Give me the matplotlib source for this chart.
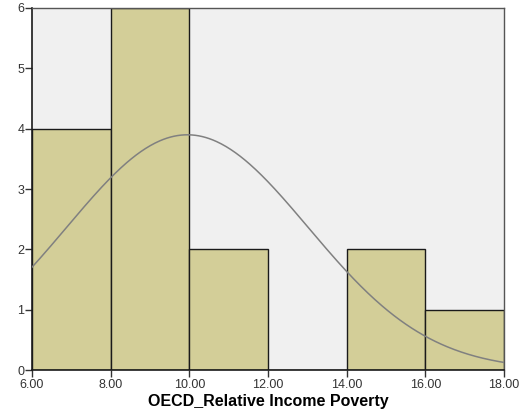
import numpy as np
import matplotlib
matplotlib.use("Agg")
import matplotlib.pyplot as plt

plt.rcParams['font.family'] = ['Liberation Sans', 'DejaVu Sans']

# Histogram bins (edges) and frequencies
bin_edges = [6.0, 8.0, 10.0, 12.0, 14.0, 16.0, 18.0]
counts = [4, 6, 2, 0, 2, 1]
# Normal fit parameters
fit_mean = 9.95
fit_sd = 3.07
n_obs = 15
x_ticks = [6, 8, 10, 12, 14, 16, 18]
y_ticks = [0, 1, 2, 3, 4, 5, 6]

W, H = 523, 419
fig = plt.figure(figsize=(W / 100, H / 100), dpi=100)
ax = fig.add_axes([32 / W, (H - 370) / H, 472 / W, 362 / H])
ax.set_facecolor('#F0F0F0')

widths = np.diff(bin_edges)
ax.bar(bin_edges[:-1], counts, width=widths, align='edge',
       color='#D3CE98', edgecolor='#1a1a1a', linewidth=1.0, zorder=2)

xs = np.linspace(bin_edges[0], bin_edges[-1], 400)
bw = widths[0]
ys = n_obs * bw / (fit_sd * np.sqrt(2 * np.pi)) * np.exp(-0.5 * ((xs - fit_mean) / fit_sd) ** 2)
ax.plot(xs, ys, color='#808080', linewidth=1.1, zorder=3)

ax.set_xlim(bin_edges[0], bin_edges[-1])
ax.set_ylim(0, 6)
ax.set_xticks(x_ticks)
ax.set_xticklabels([f"{t:.2f}" for t in x_ticks])
ax.set_yticks(y_ticks)
ax.tick_params(axis='both', direction='out', length=5, width=1, labelsize=9, colors='#333333')
ax.tick_params(axis='x', pad=1.5)
ax.tick_params(axis='y', pad=0.5)

for side in ['left', 'bottom']:
    ax.spines[side].set_color('#1a1a1a')
    ax.spines[side].set_linewidth(1.2)
for side in ['top', 'right']:
    ax.spines[side].set_color('#555555')
    ax.spines[side].set_linewidth(1.0)

ax.set_xlabel('OECD_Relative Income Poverty', fontsize=11.5, fontweight='bold', labelpad=2)

fig.savefig('out.png', dpi=100)
